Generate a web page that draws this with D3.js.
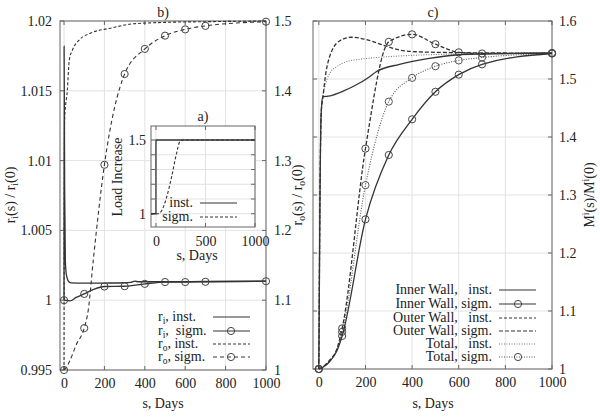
<!DOCTYPE html>
<html>
<head>
<meta charset="utf-8">
<script src="https://cdn.jsdelivr.net/npm/d3@7"></script>
<style>
body{margin:0;background:#fff;}
text{font-family:"Liberation Serif","DejaVu Serif",serif;fill:#222;}
</style>
</head>
<body>
<script>
// values, [s (days), value]
var markerDays = [0,100,200,300,400,500,600,700,1000];

// b) radii: r_i on the left axis, r_o on the right axis
var riInst = [[0,1],[0.3,1.0182],[3,1.008],[6.5,1.0028],[10,1.002],[15,1.0016],[25,1.0013],[35,1.00124],[100,1.00122],[200,1.00123],[300,1.00125],[330,1.00128],[350,1.00136],[370,1.00132],[500,1.00132],[700,1.00134],[1000,1.00136]];
var riSigm = [[0,1],[30,0.99995],[60,1.0002],[100,1.00045],[150,1.0008],[200,1.00098],[300,1.0010],[400,1.00117],[500,1.0013],[600,1.0013],[700,1.00132],[1000,1.00136]];
var roInst = [[0,1],[1,1.25],[3,1.36],[16,1.40],[26,1.444],[41,1.458],[76,1.473],[135,1.483],[235,1.49],[332,1.4957],[500,1.498],[700,1.499],[1000,1.5]];
var roSigm = [[0,1],[10,1.003],[30,1.014],[60,1.036],[100,1.06],[120,1.086],[145,1.158],[200,1.294],[300,1.424],[400,1.460],[500,1.479],[600,1.488],[700,1.493],[1000,1.499]];

// a) load increase
var loadInst = [[-50,1],[0,1],[0,1.5],[1000,1.5]];
var loadSigm = [[-50,1],[20,1],[57,1.02],[107,1.11],[158,1.25],[208,1.41],[242,1.49],[275,1.5],[1000,1.5]];

// c) M^i(s)/M^i(0)
var innerInst = [[0,1],[5,1.3],[10,1.44],[17,1.4695],[40,1.4705],[60,1.4724],[104,1.479],[147,1.487],[218,1.504],[246,1.5126],[346,1.5253],[474,1.5356],[588,1.5414],[703,1.543],[1000,1.5445]];
var innerSigm = [[0,1],[18,1.003],[47,1.013],[76,1.03],[100,1.057],[200,1.258],[300,1.369],[400,1.4305],[500,1.478],[600,1.5075],[700,1.5253],[1000,1.544]];
var outerInst = [[0,1],[5,1.3],[10,1.44],[18,1.47],[30,1.51],[45,1.537],[61,1.553],[90,1.566],[140,1.572],[203,1.568],[274,1.5586],[346,1.55],[417,1.547],[588,1.5455],[1000,1.5445]];
var outerSigm = [[0,1],[18,1.004],[47,1.0155],[76,1.033],[100,1.070],[200,1.38],[300,1.564],[400,1.577],[500,1.560],[600,1.546],[700,1.544],[1000,1.545]];
var totalInst = [[0,1],[5,1.3],[10,1.44],[17,1.47],[26,1.487],[47,1.51],[76,1.521],[119,1.53],[176,1.534],[246,1.537],[346,1.5397],[588,1.543],[1000,1.5445]];
var totalSigm = [[0,1],[18,1.0035],[47,1.014],[76,1.032],[100,1.064],[200,1.317],[300,1.461],[400,1.502],[500,1.522],[600,1.532],[700,1.537],[1000,1.544]];

var dayTicks = [0,200,400,600,800,1000];
var riTicks = [0.995,1,1.005,1.01,1.015,1.02];
var roTicks = [1,1.1,1.2,1.3,1.4,1.5];
var mTicks = [1,1.1,1.2,1.3,1.4,1.5,1.6];

var width = 600, height = 417;
var svg = d3.select("body").append("svg").attr("width",width).attr("height",height);

var xb = d3.scaleLinear().domain([-20,1000]).range([60,266]);
var ybL = d3.scaleLinear().domain([0.995,1.02]).range([370,21]);
var ybR = d3.scaleLinear().domain([1,1.5]).range([370,21]);
var xc = d3.scaleLinear().domain([-25,1000]).range([313,552]);
var yc = d3.scaleLinear().domain([1,1.6]).range([369,21]);
var xa = d3.scaleLinear().domain([-50,1000]).range([151,255]);
var ya = d3.scaleLinear().domain([0.91,1.595]).range([227,126]);

function fmt(d){ return String(d); }

// grid + frame + inward ticks
function frame(x, y, xt, yt, y2t, y2){
    var g = svg.append("g");
    var x0 = x.range()[0], x1 = x.range()[1], y0 = y.range()[0], y1 = y.range()[1];
    g.append("rect").attr("x",x0).attr("y",y1).attr("width",x1-x0).attr("height",y0-y1).style("fill","#fff");
    g.selectAll(".gx").data(xt).enter().append("line")
        .attr("x1",function(d){return x(d);}).attr("x2",function(d){return x(d);})
        .attr("y1",y0).attr("y2",y1).style("stroke","#e2e2e2").style("stroke-width",1);
    g.selectAll(".gy").data(yt).enter().append("line")
        .attr("x1",x0).attr("x2",x1)
        .attr("y1",function(d){return y(d);}).attr("y2",function(d){return y(d);})
        .style("stroke","#e2e2e2").style("stroke-width",1);
    var ticks = [];
    xt.forEach(function(d){ ticks.push([x(d),y0,x(d),y0-4]); ticks.push([x(d),y1,x(d),y1+4]); });
    yt.forEach(function(d){ ticks.push([x0,y(d),x0+4,y(d)]); if(!y2) ticks.push([x1,y(d),x1-4,y(d)]); });
    if(y2) y2t.forEach(function(d){ ticks.push([x1,y2(d),x1-4,y2(d)]); });
    g.selectAll(".tk").data(ticks).enter().append("line")
        .attr("x1",function(d){return d[0];}).attr("y1",function(d){return d[1];})
        .attr("x2",function(d){return d[2];}).attr("y2",function(d){return d[3];})
        .style("stroke","#666").style("stroke-width",1);
    g.append("rect").attr("x",x0).attr("y",y1).attr("width",x1-x0).attr("height",y0-y1)
        .style("fill","none").style("stroke","#666").style("stroke-width",1);
    return g;
}

function axisLabels(axis, tx, ty, size){
    var g = svg.append("g").attr("transform","translate("+tx+","+ty+")").call(axis);
    g.select(".domain").remove();
    g.selectAll("text").style("font-family","Liberation Serif").style("font-size",size+"px").style("fill","#222");
    return g;
}

function series(data, x, y, dash, color, w, curve){
    var line = d3.line().x(function(d){return x(d[0]);}).y(function(d){return y(d[1]);})
        .curve(curve || d3.curveMonotoneX);
    svg.append("path").datum(data).attr("d",line)
        .style("fill","none").style("stroke",color).style("stroke-width",w)
        .style("stroke-dasharray",dash);
}

function markers(data, x, y, color){
    svg.selectAll(null).data(data.filter(function(d){ return markerDays.indexOf(d[0]) >= 0; }))
        .enter().append("circle")
        .attr("cx",function(d){return x(d[0]);}).attr("cy",function(d){return y(d[1]);})
        .attr("r",3.6).style("fill","none").style("stroke",color).style("stroke-width",1);
}

function label(txt, x, y, anchor, size, rot){
    var t = svg.append("text").attr("x",x).attr("y",y).attr("text-anchor",anchor||"middle")
        .style("font-size",(size||14)+"px").style("white-space","pre");
    if(rot) t.attr("transform","rotate(-90,"+x+","+y+")");
    // parts: plain strings, {sub:"i"} or {sup:"i"}
    var shift = 0;
    txt.forEach(function(p){
        if(typeof p === "string"){
            t.append("tspan").attr("dy",-shift).text(p); shift = 0;
        } else if(p.sub){
            t.append("tspan").attr("dy",2.5-shift).style("font-size","9.5px").text(p.sub); shift = 2.5;
        } else {
            t.append("tspan").attr("dy",-5-shift).style("font-size","9.5px").text(p.sup); shift = -5;
        }
    });
    return t;
}

// ---------- panel b) ----------
frame(xb, ybL, dayTicks, riTicks, roTicks, ybR);
axisLabels(d3.axisBottom(xb).tickValues(dayTicks).tickSize(0).tickPadding(8).tickFormat(fmt), 0, 370, 14);
axisLabels(d3.axisLeft(ybL).tickValues(riTicks).tickSize(0).tickPadding(8).tickFormat(fmt), 60, 0, 14);
axisLabels(d3.axisRight(ybR).tickValues(roTicks).tickSize(0).tickPadding(8).tickFormat(fmt), 266, 0, 14);

series(roInst, xb, ybR, "3,2", "#333", 1.1);
series(roSigm, xb, ybR, "4,3", "#333", 1.1);
markers(roSigm, xb, ybR, "#444");
series(riInst, xb, ybL, null, "#333", 1.3);
series(riSigm, xb, ybL, null, "#333", 1.3);
markers(riSigm, xb, ybL, "#444");

label(["b)"], 163, 17);
label(["s, Days"], 163, 408);
label(["r",{sub:"i"},"(s) / r",{sub:"i"},"(0)"], 15, 195, "middle", 14, true);
label(["r",{sub:"o"},"(s) / r",{sub:"o"},"(0)"], 302, 195, "middle", 14, true);

// legend b)
var legB = [
    {t:["r",{sub:"i"},", inst."], dash:null, mk:false, y:317},
    {t:["r",{sub:"i"},",  sigm."], dash:null, mk:true, y:331},
    {t:["r",{sub:"o"},", inst."], dash:"3,2", mk:false, y:344},
    {t:["r",{sub:"o"},", sigm."], dash:"4,3", mk:true, y:357}
];
legB.forEach(function(d){
    label(d.t, 158, d.y+4, "start", 14);
    svg.append("line").attr("x1",213).attr("x2",250).attr("y1",d.y).attr("y2",d.y)
        .style("stroke","#333").style("stroke-width",1.2).style("stroke-dasharray",d.dash);
    if(d.mk) svg.append("circle").attr("cx",231).attr("cy",d.y).attr("r",3.6)
        .style("fill","none").style("stroke","#444");
});

// ---------- inset a) ----------
frame(xa, ya, [0,500,1000], [1,1.1,1.2,1.3,1.4,1.5]);
axisLabels(d3.axisBottom(xa).tickValues([0,500,1000]).tickSize(0).tickPadding(9).tickFormat(fmt), 0, 227, 14);
axisLabels(d3.axisLeft(ya).tickValues([1,1.5]).tickSize(0).tickPadding(5).tickFormat(fmt), 151, 0, 14);
series(loadInst, xa, ya, null, "#333", 1.3, d3.curveLinear);
series(loadSigm, xa, ya, "3,2", "#333", 1.1);
label(["a)"], 203, 121);
label(["s, Days"], 197, 260);
label(["Load Increase"], 122, 177, "middle", 14, true);
[{t:"inst.",dash:null,y:203},{t:"sigm.",dash:"3,2",y:217}].forEach(function(d){
    label([d.t], 193, d.y+4, "end", 14);
    svg.append("line").attr("x1",200).attr("x2",237).attr("y1",d.y).attr("y2",d.y)
        .style("stroke","#333").style("stroke-width",1.2).style("stroke-dasharray",d.dash);
});

// ---------- panel c) ----------
frame(xc, yc, dayTicks, mTicks);
axisLabels(d3.axisBottom(xc).tickValues(dayTicks).tickSize(0).tickPadding(8).tickFormat(fmt), 0, 369, 14);
axisLabels(d3.axisRight(yc).tickValues(mTicks).tickSize(0).tickPadding(7).tickFormat(fmt), 552, 0, 14);

series(totalInst, xc, yc, "1,1.5", "#777", 1.1);
series(totalSigm, xc, yc, "1,1.5", "#555", 1.1);
markers(totalSigm, xc, yc, "#555");
series(outerInst, xc, yc, "4,2", "#333", 1.3);
series(outerSigm, xc, yc, "4,2", "#333", 1.3);
markers(outerSigm, xc, yc, "#444");
series(innerInst, xc, yc, null, "#333", 1.3);
series(innerSigm, xc, yc, null, "#333", 1.3);
markers(innerSigm, xc, yc, "#444");

label(["c)"], 433, 17);
label(["s, Days"], 433, 408);
label(["M",{sup:"i"},"(s)/M",{sup:"i"},"(0)"], 594, 195, "middle", 14, true);

var legC = [
    {t:"Inner Wall,   inst.", dash:null, c:"#333", mk:false, y:290},
    {t:"Inner Wall, sigm.", dash:null, c:"#333", mk:true, y:304},
    {t:"Outer Wall,   inst.", dash:"3,2", c:"#333", mk:false, y:318},
    {t:"Outer Wall, sigm.", dash:"4,2", c:"#333", mk:false, y:331},
    {t:"Total,   inst.", dash:"1,1.5", c:"#777", mk:false, y:344},
    {t:"Total, sigm.", dash:"1,1.5", c:"#555", mk:true, y:357}
];
legC.forEach(function(d){
    label([d.t], 492, d.y+4, "end", 14);
    svg.append("line").attr("x1",499).attr("x2",536).attr("y1",d.y).attr("y2",d.y)
        .style("stroke",d.c).style("stroke-width",1.2).style("stroke-dasharray",d.dash);
    if(d.mk) svg.append("circle").attr("cx",518).attr("cy",d.y).attr("r",3.6)
        .style("fill","none").style("stroke","#444");
});
</script>
</body>
</html>
